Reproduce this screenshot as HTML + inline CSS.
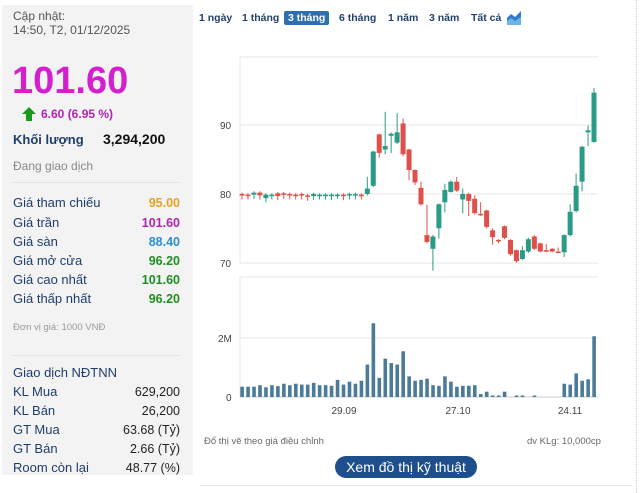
<!DOCTYPE html>
<html><head><meta charset="utf-8">
<style>
body{margin:0;width:640px;height:493px;background:#fff;font-family:"Liberation Sans",sans-serif;position:relative;overflow:hidden}
.lp{position:absolute;left:2px;top:5px;width:191px;height:470px;background:#f3f3f3}
.t{position:absolute;white-space:nowrap}
.lab{color:#1f3d6b;font-size:13px;left:13px}
.val{font-size:12.5px;font-weight:bold;right:460px;text-align:right}
.pb{position:absolute;top:12px;font-size:10.5px;font-weight:bold;color:#23416b}
</style></head><body>
<div class="lp"></div>
<div class="t" style="left:13px;top:9px;font-size:12px;color:#555;line-height:14px">Cập nhật:<br>14:50, T2, 01/12/2025</div>
<div class="t" style="left:12px;top:61px;font-size:38px;font-weight:bold;color:#d41fd1;line-height:40px">101.60</div>
<svg style="position:absolute;left:22px;top:107px" width="14" height="14"><polygon points="7,0 14,7 10,7 10,14 4,14 4,7 0,7" fill="#1a9a1a"/></svg>
<div class="t" style="left:41px;top:107px;font-size:12px;font-weight:bold;color:#b520b5">6.60 (6.95 %)</div>
<div class="t lab" style="top:132px;font-weight:bold;font-size:13px">Khối lượng</div>
<div class="t" style="left:103px;top:131px;font-size:14px;font-weight:bold;color:#111">3,294,200</div>
<div class="t" style="left:13px;top:159px;font-size:12px;color:#888">Đang giao dịch</div>
<div style="position:absolute;left:12px;top:182px;width:168px;height:1px;background:#e2e2e2"></div>
<div class="t lab" style="top:195px">Giá tham chiếu</div><div class="t val" style="top:196px;color:#e8a020">95.00</div>
<div class="t lab" style="top:215px">Giá trần</div><div class="t val" style="top:216px;color:#b520b5">101.60</div>
<div class="t lab" style="top:234px">Giá sàn</div><div class="t val" style="top:235px;color:#2b8fd0">88.40</div>
<div class="t lab" style="top:253px">Giá mở cửa</div><div class="t val" style="top:254px;color:#1f8f1f">96.20</div>
<div class="t lab" style="top:272px">Giá cao nhất</div><div class="t val" style="top:273px;color:#1f8f1f">101.60</div>
<div class="t lab" style="top:291px">Giá thấp nhất</div><div class="t val" style="top:292px;color:#1f8f1f">96.20</div>
<div class="t" style="left:13px;top:322px;font-size:9.5px;color:#999">Đơn vị giá: 1000 VNĐ</div>
<div style="position:absolute;left:12px;top:355px;width:168px;height:1px;background:#e2e2e2"></div>
<div class="t lab" style="top:365px">Giao dịch NĐTNN</div>
<div class="t lab" style="top:384px">KL Mua</div><div class="t val" style="top:385px;color:#222;font-weight:normal">629,200</div>
<div class="t lab" style="top:403px">KL Bán</div><div class="t val" style="top:404px;color:#222;font-weight:normal">26,200</div>
<div class="t lab" style="top:422px">GT Mua</div><div class="t val" style="top:423px;color:#222;font-weight:normal">63.68 (Tỷ)</div>
<div class="t lab" style="top:441px">GT Bán</div><div class="t val" style="top:442px;color:#222;font-weight:normal">2.66 (Tỷ)</div>
<div class="t lab" style="top:460px">Room còn lại</div><div class="t val" style="top:461px;color:#222;font-weight:normal">48.77 (%)</div>

<div class="pb" style="left:199px">1 ngày</div>
<div class="pb" style="left:242px">1 tháng</div>
<div class="pb" style="left:284px;background:#2f6fb0;color:#fff;padding:1px 4px;border-radius:2px;top:11px">3 tháng</div>
<div class="pb" style="left:339px">6 tháng</div>
<div class="pb" style="left:388px">1 năm</div>
<div class="pb" style="left:429px">3 năm</div>
<div class="pb" style="left:471px">Tất cả</div>
<svg style="position:absolute;left:507px;top:11px" width="15" height="14"><path d="M0,14 L0,7 L4,3 L8,6 L14,0 L14,14 Z" fill="#2f7ad0"/><path d="M0,14 L0,10 L4,7 L8,10 L14,6 L14,14Z" fill="#6fb4e8"/></svg>

<svg id="c" style="position:absolute;left:0;top:0" width="640" height="493"></svg>
<div style="position:absolute;left:636px;top:0;width:0;height:493px;border-left:1px dotted #ccc"></div>
<div class="t" style="left:204px;top:436px;font-size:9.5px;color:#666">Đổ thị vẽ theo giá điều chỉnh</div>
<div class="t" style="left:527px;top:436px;font-size:9.5px;color:#666">dv KLg: 10,000cp</div>
<div class="t" style="left:335px;top:456px;width:142px;height:22px;border-radius:11px;background:#1e4f8c;color:#fff;font-size:14px;text-align:center;line-height:22px">Xem đồ thị kỹ thuật</div>
<div style="position:absolute;left:200px;top:485px;width:432px;height:1px;background:#e5e5e5"></div>
<script>
var s='';
function L(x1,y1,x2,y2,c,w){s+='<line x1="'+x1+'" y1="'+y1+'" x2="'+x2+'" y2="'+y2+'" stroke="'+c+'" stroke-width="'+(w||1)+'"/>';}
function T(x,y,t,a){s+='<text x="'+x+'" y="'+y+'" font-size="10" fill="#444" font-family="Liberation Sans" text-anchor="'+(a||'start')+'">'+t+'</text>';}
L(240,57,598,57,'#e6e6e6');L(240,57,240,263,'#e6e6e6');
L(240,125,598,125,'#e6e6e6');L(240,194,598,194,'#e6e6e6');L(240,263,598,263,'#e6e6e6');
L(240,277,598,277,'#e6e6e6');L(240,277,240,397,'#e6e6e6');L(240,338,598,338,'#e6e6e6');L(240,397,598,397,'#ccc');
T(220,129,'90');T(220,198,'80');T(220,267,'70');T(218,342,'2M');T(226,401,'0');
T(344,414,'29.09','middle');T(458,414,'27.10','middle');T(570,414,'24.11','middle');
function py(p){return 194-(p-80)*6.85;}
var flat=[[80,79.8],[79.9,79.8],[79.9,80.2],[80.2,79.8],[79.4,79.9],[79.8,79.9],[80.1,79.7],[80.1,79.9],[80,79.9],[79.9,79.8],[80,79.8],[79.8,79.6],[79.7,80],[79.8,79.9],[79.8,79.9],[79.7,79.9],[79.9,79.9],[79.9,79.7],[79.8,80],[79.8,80],[79.9,79.8]];
var d=[];flat.forEach(function(f){d.push([f[0],f[1],Math.max(f[0],f[1])+0.2,Math.min(f[0],f[1])-0.6]);});
d=d.concat([[80,80.8,82.5,79.8],[81.2,86.2,86.3,81],[88.7,86,88.8,85.3],[86.5,87,92,85.8],[88.5,88.8,89,86],[87.5,89,91.8,87.3],[90.3,85.8,91,85.5],[86.5,83.5,86.6,82],[83.5,81.7,83.6,81.3],[80.9,78.5,81.8,78.3],[74,73,78.4,72.8],[72,73.8,74,68.8],[75,78.5,78.6,73.5],[78.8,80.6,81.5,77.3],[80.3,81.8,82,80.2],[81.8,80.5,82.5,80.3],[79.2,80,80.8,77.2],[80,79,80.2,76.8],[79.3,77.2,79.8,77],[77.1,76.9,78.8,76.8],[77.6,75.2,77.7,75],[74.7,73.7,75,72.6],[73.3,73.1,73.4,72.8],[75.3,73.6,75.4,73.4],[73.3,71.2,73.4,71],[71.8,70.2,71.9,70],[70.5,71.8,72.4,70.4],[71.6,73.4,73.6,71.4],[73.8,72,74,71.8],[72.8,71.6,72.9,71.5],[71.8,71.6,72.7,71.5],[72,71.6,72.1,71.5],[71.6,71.5,72.2,71.4],[71.5,74,74.1,70.8],[74,77.4,78.5,73.8],[77.5,81.2,83,77.3],[81.8,86.9,87,80.4],[89,89.3,90,87],[87.6,94.8,95.5,87.5]]);
var v=[0.35,0.35,0.35,0.4,0.33,0.4,0.37,0.45,0.4,0.45,0.42,0.42,0.48,0.4,0.4,0.38,0.58,0.42,0.52,0.45,0.55,1.1,2.5,0.65,1.3,1.15,1.1,1.55,0.7,0.55,0.58,0.62,0.4,0.38,0.7,0.52,0.35,0.38,0.38,0.4,0.1,0.18,0.05,0.05,0.18,0,0.05,0.05,0,0.05,0,0,0,0,0.45,0.42,0.8,0.55,0.6,2.06];
var sp=(594-242)/59;
d.forEach(function(c,i){var x=242+i*sp,o=c[0],cl=c[1],col=cl>=o?'#2a9c85':'#e0504a';
L(x,py(c[2]),x,py(c[3]),col,1);var t=py(Math.max(o,cl)),b=py(Math.min(o,cl));if(b-t<1.5)b=t+1.5;
s+='<rect x="'+(x-2.5)+'" y="'+t+'" width="5" height="'+(b-t)+'" fill="'+col+'"/>';
var h=v[i]*29.5;if(h<0.5)h=0;if(h>0&&h<1.5)h=1.5;
s+='<rect x="'+(x-1.7)+'" y="'+(397-h)+'" width="3.6" height="'+h+'" fill="#4b7b98"/>';});
document.getElementById('c').innerHTML=s;
</script>
</body></html>
